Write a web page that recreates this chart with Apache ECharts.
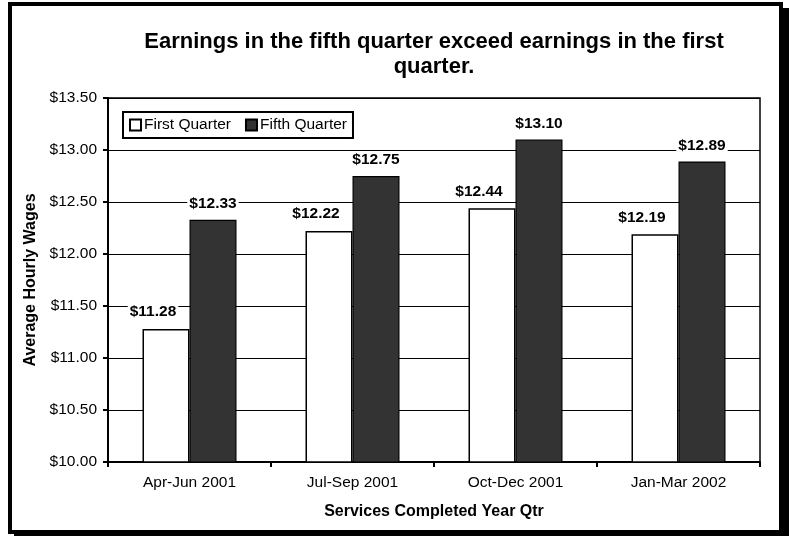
<!DOCTYPE html>
<html>
<head>
<meta charset="utf-8">
<style>
  html, body { margin: 0; padding: 0; background: #fff; }
  #chart { width: 789px; height: 536px; }
</style>
<script src="https://cdn.jsdelivr.net/npm/echarts@6/dist/echarts.min.js"></script>
</head>
<body>
<div id="chart"></div>
<script>
// Quarters in which services were completed
const quarters = ['Apr-Jun 2001', 'Jul-Sep 2001', 'Oct-Dec 2001', 'Jan-Mar 2002'];
// Average hourly wages, first and fifth quarter after services
const firstQuarter = [11.28, 12.22, 12.44, 12.19];
const fifthQuarter = [12.33, 12.75, 13.10, 12.89];
const seriesNames = ['First Quarter', 'Fifth Quarter'];
const titleText = 'Earnings in the fifth quarter exceed earnings in the first\nquarter.';
const xAxisTitle = 'Services Completed Year Qtr';
const yAxisTitle = 'Average Hourly Wages';

const FONT = '"Liberation Sans", Arial, Helvetica, sans-serif';
const money = v => '$' + Number(v).toFixed(2);

const chart = echarts.init(document.getElementById('chart'), null, { renderer: 'canvas' });

const labelStyle = {
  show: true,
  position: 'top',
  fontFamily: FONT,
  fontSize: 15.5,
  fontWeight: 'bold',
  color: '#000',
  backgroundColor: '#fff',
  padding: [1, 2, 0, 2],
  formatter: p => money(p.value)
};

chart.setOption({
  backgroundColor: '#fff',
  animation: false,
  textStyle: { fontFamily: FONT },
  graphic: [
    // drop shadow of the outer frame
    { type: 'rect', z: -20, silent: true,
      shape: { x: 14, y: 8, width: 775, height: 530 },
      style: { fill: '#000' } },
    // outer frame
    { type: 'rect', z: -10, silent: true,
      shape: { x: 10, y: 4, width: 771, height: 528 },
      style: { fill: '#fff', stroke: '#000', lineWidth: 4 } }
  ],
  title: {
    text: titleText,
    left: 434,
    top: 29,
    padding: 0,
    textAlign: 'center',
    textStyle: {
      fontFamily: FONT,
      fontSize: 22,
      fontWeight: 'bold',
      color: '#000',
      lineHeight: 25
    }
  },
  legend: {
    data: seriesNames,
    left: 123,
    top: 112,
    orient: 'horizontal',
    backgroundColor: '#fff',
    borderColor: '#000',
    borderWidth: 2,
    padding: [5, 6, 5, 6],
    itemWidth: 11,
    itemHeight: 11,
    itemGap: 14,
    icon: 'rect',
    textStyle: { fontFamily: FONT, fontSize: 15.5, color: '#000', padding: [0, 0, 0, -2] }
  },
  grid: {
    left: 108,
    top: 98,
    width: 652,
    height: 364,
    show: true,
    borderColor: '#000',
    borderWidth: 1.5,
    backgroundColor: 'transparent',
    containLabel: false
  },
  xAxis: {
    type: 'category',
    data: quarters,
    name: xAxisTitle,
    nameLocation: 'middle',
    nameGap: 42,
    nameTextStyle: { fontFamily: FONT, fontSize: 16, fontWeight: 'bold', color: '#000' },
    axisLine: { show: true, lineStyle: { color: '#000', width: 2 } },
    axisTick: { show: true, inside: false, length: 5, lineStyle: { color: '#000', width: 2 } },
    axisLabel: { fontFamily: FONT, fontSize: 15.5, color: '#000', margin: 13 },
    splitLine: { show: false }
  },
  yAxis: {
    type: 'value',
    min: 10,
    max: 13.5,
    interval: 0.5,
    name: yAxisTitle,
    nameLocation: 'middle',
    nameGap: 64,
    nameRotate: 90,
    nameTextStyle: { fontFamily: FONT, fontSize: 16, fontWeight: 'bold', color: '#000' },
    axisLine: { show: true, lineStyle: { color: '#000', width: 2 } },
    axisTick: { show: true, inside: false, length: 5, lineStyle: { color: '#000', width: 2 } },
    axisLabel: { fontFamily: FONT, fontSize: 15.5, color: '#000', margin: 11, formatter: money },
    splitLine: { show: true, lineStyle: { color: '#000', width: 1.2 } }
  },
  series: [
    {
      name: seriesNames[0],
      type: 'bar',
      data: firstQuarter,
      barWidth: 47,
      barGap: '0%',
      itemStyle: { color: '#fff', borderColor: '#000', borderWidth: 1.5 },
      label: Object.assign({}, labelStyle, { distance: 9, offset: [-13, 0] })
    },
    {
      name: seriesNames[1],
      type: 'bar',
      data: fifthQuarter,
      barWidth: 47,
      barGap: '0%',
      itemStyle: { color: '#333333', borderColor: '#000', borderWidth: 1.2 },
      label: Object.assign({}, labelStyle, { distance: 8 })
    }
  ]
});
</script>
</body>
</html>
